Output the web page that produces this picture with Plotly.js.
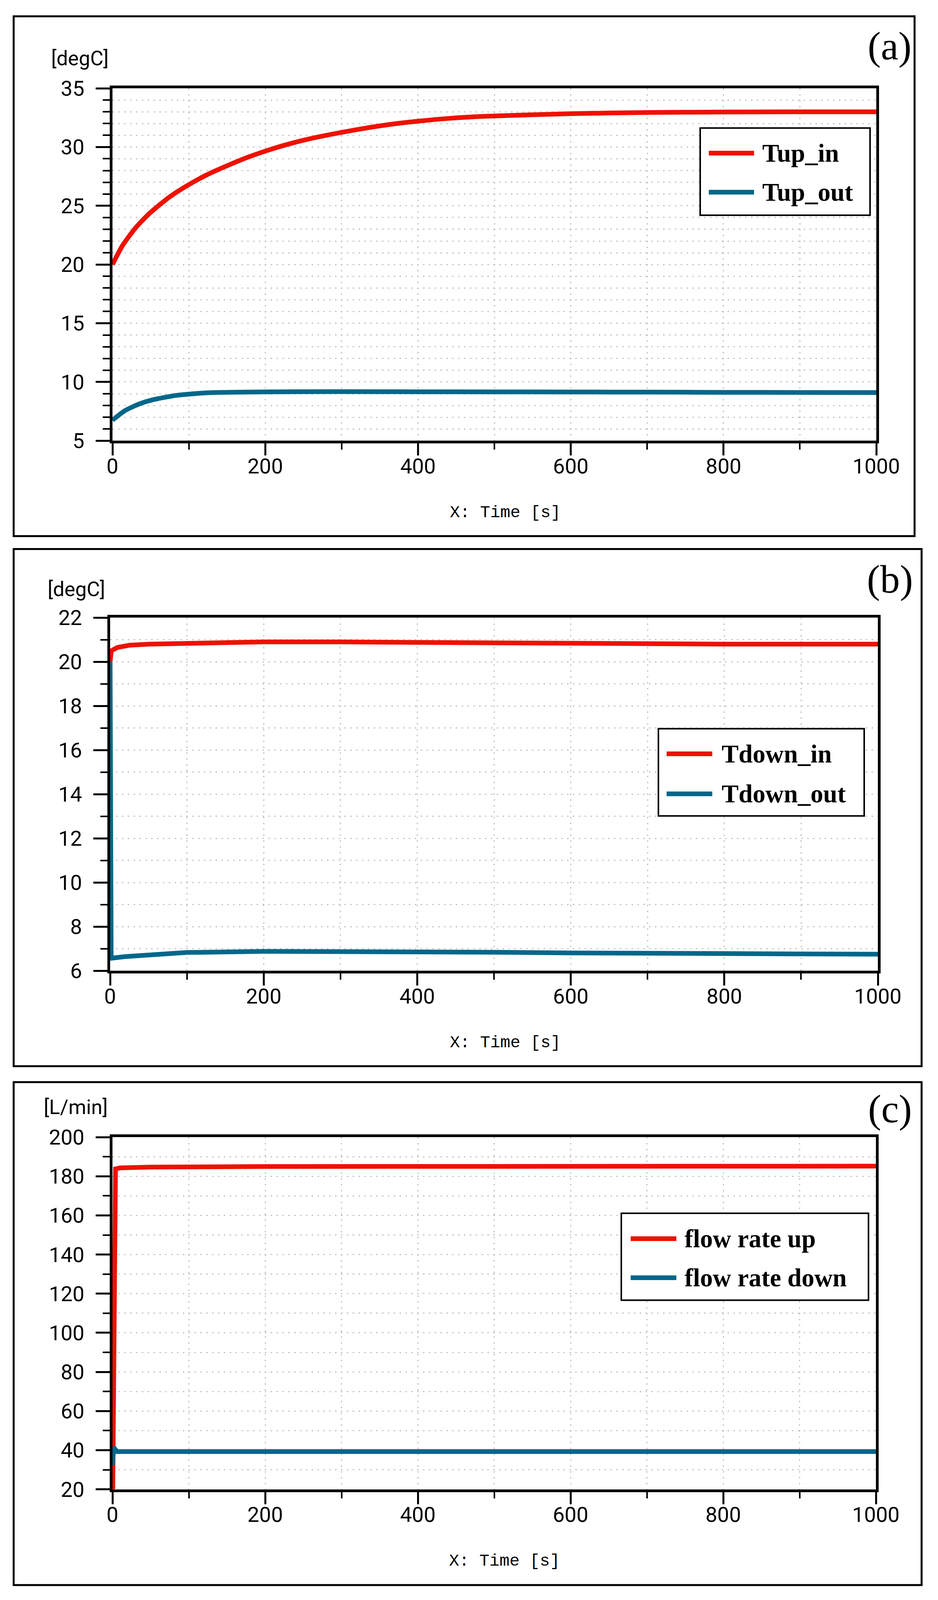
<!DOCTYPE html>
<html>
<head>
<meta charset="utf-8">
<script src="https://cdn.plot.ly/plotly-3.0.1.min.js"></script>
<style>
html,body{margin:0;padding:0;background:#ffffff;overflow:hidden;}
#chart{width:2402px;}
</style>
</head>
<body>
<div id="chart"></div>
<script>
// ---------------- data ----------------
const panelLabels = ['(a)', '(b)', '(c)'];
const unitLabels = ['[degC]', '[degC]', '[L/min]'];
const xAxisLabel = 'X: Time [s]';

const namesA = ['Tup_in', 'Tup_out'];
const namesB = ['Tdown_in', 'Tdown_out'];
const namesC = ['flow rate up', 'flow rate down'];

// panel (a)
const timeTupIn = [0, 13, 30, 46, 62, 78, 100, 118, 134, 157, 176, 200, 225, 258, 300, 340, 372, 400, 437, 490, 600, 700, 800, 900, 1000];
const valTupIn  = [20.0, 21.6, 23.1, 24.2, 25.1, 25.9, 26.8, 27.45, 27.95, 28.6, 29.1, 29.65, 30.15, 30.7, 31.25, 31.7, 32.0, 32.2, 32.42, 32.62, 32.84, 32.94, 32.98, 33.0, 33.0];
const timeTupOut = [0, 16, 35, 55, 81, 100, 131, 200, 300, 400, 500, 600, 700, 800, 900, 1000];
const valTupOut  = [6.75, 7.55, 8.13, 8.52, 8.84, 8.97, 9.1, 9.16, 9.18, 9.17, 9.16, 9.15, 9.14, 9.12, 9.11, 9.1];

// panel (b)
const timeTdownIn = [0, 1.5, 9.5, 25, 51, 100, 200, 300, 400, 500, 600, 800, 1000];
const valTdownIn  = [20.0, 20.5, 20.65, 20.75, 20.8, 20.85, 20.9, 20.9, 20.87, 20.84, 20.82, 20.8, 20.8];
const timeTdownOut = [0, 1.4, 19, 67, 100, 200, 364, 500, 600, 800, 1000];
const valTdownOut  = [20.0, 6.57, 6.64, 6.78, 6.83, 6.88, 6.88, 6.84, 6.81, 6.77, 6.75];

// panel (c)
const timeFlowUp = [0, 4, 10, 50, 200, 500, 1000];
const valFlowUp  = [0, 183.8, 184.3, 184.7, 185.0, 185.1, 185.2];
const timeFlowDown = [0, 1.5, 6, 100, 1000];
const valFlowDown  = [32.5, 41.5, 39.3, 39.3, 39.3];

// ticks
const xTickVals = [0, 200, 400, 600, 800, 1000];
const yTickValsA = [5, 10, 15, 20, 25, 30, 35];
const yTickValsB = [6, 8, 10, 12, 14, 16, 18, 20, 22];
const yTickValsC = [20, 40, 60, 80, 100, 120, 140, 160, 180, 200];

// ---------------- styling / layout helpers ----------------
const W = 2402, HREF = 4712;
// fit the whole figure into the visible window height
const HP = Math.min(HREF, window.innerHeight || HREF);
const s = HP / HREF;            // vertical compression
const f = (1 + s) / 2;          // font scale
document.getElementById('chart').style.height = HP + 'px';

const px = v => v / W;
const py = v => 1 - v / HREF;
const RED = '#ee1100';
const BLUE = '#00678a';
const GRID = '#c6c6c6';
const DASH = '4px,11px';
const TICKFONT = {family: 'Roboto, sans-serif', size: Math.round(58 * f), color: '#000000'};

function xAxis(dom, anchor) {
  return {
    domain: [px(dom[0]), px(dom[1])], anchor: anchor,
    range: [0, 1000], tickmode: 'array', tickvals: xTickVals,
    ticks: 'outside', ticklen: Math.round(36 * s), tickwidth: 5, tickcolor: '#000',
    showline: true, linewidth: 7, linecolor: '#000', mirror: true,
    showgrid: true, gridcolor: GRID, griddash: DASH, gridwidth: 3,
    zeroline: false, tickfont: TICKFONT, ticklabelstandoff: Math.round(-22 * s),
    minor: {dtick: 100, tick0: 0, ticks: 'outside', ticklen: Math.round(18 * s), tickwidth: 4, tickcolor: '#000',
            showgrid: true, gridcolor: GRID, griddash: DASH, gridwidth: 3},
    fixedrange: true
  };
}
function yAxis(dom, anchor, range, tv, minorDt) {
  return {
    domain: [py(dom[1]), py(dom[0])], anchor: anchor,
    range: range, tickmode: 'array', tickvals: tv,
    ticks: 'outside', ticklen: 36, tickwidth: 5, tickcolor: '#000',
    showline: true, linewidth: 7, linecolor: '#000', mirror: true,
    showgrid: true, gridcolor: GRID, griddash: DASH, gridwidth: 3,
    zeroline: false, tickfont: TICKFONT, ticklabelstandoff: 18,
    minor: {dtick: minorDt, tick0: range[0], ticks: 'outside', ticklen: 18, tickwidth: 4, tickcolor: '#000',
            showgrid: true, gridcolor: GRID, griddash: DASH, gridwidth: 3},
    fixedrange: true
  };
}

function line(x, y, name, color, xa, ya, shape) {
  return {x: x, y: y, name: name, type: 'scatter', mode: 'lines', xaxis: xa, yaxis: ya,
          line: {color: color, width: 12, shape: shape || 'linear', smoothing: 0.6},
          showlegend: false, hoverinfo: 'skip'};
}

const traces = [
  line(timeTupIn, valTupIn, namesA[0], RED, 'x', 'y', 'spline'),
  line(timeTupOut, valTupOut, namesA[1], BLUE, 'x', 'y', 'spline'),
  line(timeTdownIn, valTdownIn, namesB[0], RED, 'x2', 'y2'),
  line(timeTdownOut, valTdownOut, namesB[1], BLUE, 'x2', 'y2'),
  line(timeFlowUp, valFlowUp, namesC[0], RED, 'x3', 'y3'),
  line(timeFlowDown, valFlowDown, namesC[1], BLUE, 'x3', 'y3')
];

// panel geometry in reference pixels
const panels = [
  {box: [35, 48, 2342, 1579], plot: [288, 260, 2244, 1298], unit: [204, 172], label: [2278, 136], xlab: [1294, 1510],
   leg: [1793, 377, 2228, 634], legY: [451, 566], legLine: [1815, 1931], legText: 1950, names: namesA},
  {box: [35, 1617, 2360, 3140], plot: [282, 1819, 2248, 2859], unit: [195, 1735], label: [2279, 1706], xlab: [1294, 3071],
   leg: [1686, 2146, 2213, 2403], legY: [2220, 2338], legLine: [1707, 1824], legText: 1846, names: namesB},
  {box: [35, 3187, 2360, 4668], plot: [288, 3349, 2243, 4386], unit: [194, 3261], label: [2279, 3266], xlab: [1292, 4598],
   leg: [1591, 3573, 2224, 3829], legY: [3648, 3763], legLine: [1615, 1732], legText: 1751, names: namesC}
];

const shapes = [];
const annotations = [];
const colors = [RED, BLUE];
panels.forEach((p, i) => {
  shapes.push({type: 'rect', xref: 'paper', yref: 'paper', x0: px(p.box[0]), x1: px(p.box[2]), y0: py(p.box[3]), y1: py(p.box[1]),
               line: {color: '#000', width: 5}, fillcolor: 'rgba(0,0,0,0)', layer: 'below'});
  shapes.push({type: 'rect', xref: 'paper', yref: 'paper', x0: px(p.leg[0]), x1: px(p.leg[2]), y0: py(p.leg[3]), y1: py(p.leg[1]),
               line: {color: '#000', width: 4}, fillcolor: '#ffffff', layer: 'above'});
  for (let k = 0; k < 2; k++) {
    shapes.push({type: 'line', xref: 'paper', yref: 'paper', x0: px(p.legLine[0]), x1: px(p.legLine[1]), y0: py(p.legY[k]), y1: py(p.legY[k]),
                 line: {color: colors[k], width: 12}, layer: 'above'});
    annotations.push({xref: 'paper', yref: 'paper', x: px(p.legText), y: py(p.legY[k]), xanchor: 'left', yanchor: 'middle',
                      text: '<b>' + p.names[k] + '</b>', showarrow: false,
                      font: {family: '"Liberation Serif", "Times New Roman", serif', size: Math.round(70 * f), color: '#000'}});
  }
  annotations.push({xref: 'paper', yref: 'paper', x: px(p.unit[0]), y: py(p.unit[1]), xanchor: 'center', yanchor: 'middle',
                    text: unitLabels[i], showarrow: false, font: {family: 'Roboto, sans-serif', size: Math.round(56 * f), color: '#000'}});
  annotations.push({xref: 'paper', yref: 'paper', x: px(p.label[0]), y: py(p.label[1]), xanchor: 'center', yanchor: 'middle',
                    text: panelLabels[i], showarrow: false, font: {family: '"Liberation Serif", "Times New Roman", serif', size: Math.round(108 * f), color: '#000'}});
  annotations.push({xref: 'paper', yref: 'paper', x: px(p.xlab[0]), y: py(p.xlab[1]), xanchor: 'center', yanchor: 'middle',
                    text: xAxisLabel, showarrow: false, font: {family: '"Liberation Mono", "DejaVu Sans Mono", monospace', size: Math.round(46 * f), color: '#000'}});
});

const layout = {
  width: W, height: HP,
  margin: {l: 0, r: 0, t: 0, b: 0, pad: 0},
  paper_bgcolor: '#ffffff', plot_bgcolor: '#ffffff',
  showlegend: false,
  xaxis: xAxis([panels[0].plot[0], panels[0].plot[2]], 'y'),
  yaxis: yAxis([panels[0].plot[1], panels[0].plot[3]], 'x', [5, 35], yTickValsA, 1),
  xaxis2: xAxis([panels[1].plot[0], panels[1].plot[2]], 'y2'),
  yaxis2: yAxis([panels[1].plot[1], panels[1].plot[3]], 'x2', [6, 22], yTickValsB, 1),
  xaxis3: xAxis([panels[2].plot[0], panels[2].plot[2]], 'y3'),
  yaxis3: yAxis([panels[2].plot[1], panels[2].plot[3]], 'x3', [20, 200], yTickValsC, 10),
  shapes: shapes,
  annotations: annotations
};

Plotly.newPlot('chart', traces, layout, {displayModeBar: false, staticPlot: true});
</script>
</body>
</html>
